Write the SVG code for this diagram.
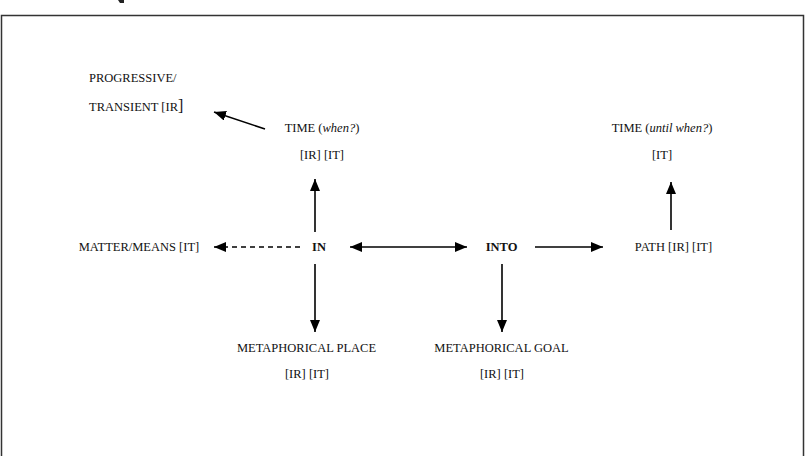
<svg xmlns="http://www.w3.org/2000/svg" width="812" height="456" viewBox="0 0 812 456">
  <defs>
    <marker id="head" viewBox="0 0 12 10" refX="12" refY="5" markerWidth="12" markerHeight="10" markerUnits="userSpaceOnUse" orient="auto-start-reverse">
      <path d="M0,0 L12,5 L0,10 Z" fill="#000"/>
    </marker>
    <style>
      text { font-family: "Liberation Serif", "Times New Roman", serif; font-size: 12.5px; fill: #111; text-anchor: middle; }
      .l { text-anchor: start; }
      .b { font-weight: bold; }
      .i { font-style: italic; }
      .frame { fill: none; stroke: #333; stroke-width: 1.5; }
      .edge { fill: none; stroke: #000; stroke-width: 1.6; }
      .dash { stroke-dasharray: 5 4; }
    </style>
  </defs>

  <rect width="812" height="456" fill="#fff"/>
  <!-- outer frame, open at the bottom -->
  <path class="frame" d="M1.5,470 V15.5 H803.5 V470"/>
  <path d="M118,0 h6 v3 h-4 z" fill="#222"/>

  <g id="connectors">
    <line class="edge" x1="265" y1="129" x2="214" y2="112" marker-end="url(#head)"/>
    <line class="edge" x1="315" y1="232" x2="315" y2="179" marker-end="url(#head)"/>
    <line class="edge dash" x1="300" y1="247" x2="214" y2="247" marker-end="url(#head)"/>
    <line class="edge" x1="350" y1="247" x2="467" y2="247" marker-start="url(#head)" marker-end="url(#head)"/>
    <line class="edge" x1="535" y1="247" x2="603" y2="247" marker-end="url(#head)"/>
    <line class="edge" x1="671" y1="230" x2="671" y2="182" marker-end="url(#head)"/>
    <line class="edge" x1="315" y1="264" x2="315" y2="332" marker-end="url(#head)"/>
    <line class="edge" x1="502" y1="264" x2="502" y2="332" marker-end="url(#head)"/>
  </g>

  <g id="progressive">
    <text class="l" x="89" y="82">PROGRESSIVE/</text>
    <text class="l" x="89" y="111">TRANSIENT [IR<tspan font-size="16">]</tspan></text>
  </g>
  <g id="time-when">
    <text x="322" y="132">TIME (<tspan class="i">when?</tspan>)</text>
    <text x="322" y="159">[IR] [IT]</text>
  </g>
  <g id="time-until">
    <text x="662" y="132">TIME (<tspan class="i">until when?</tspan>)</text>
    <text x="662" y="159">[IT]</text>
  </g>
  <g id="matter">
    <text x="139" y="251">MATTER/MEANS [IT]</text>
  </g>
  <g id="in">
    <text class="b" x="319" y="251">IN</text>
  </g>
  <g id="into">
    <text class="b" x="501.5" y="251">INTO</text>
  </g>
  <g id="path">
    <text x="673.5" y="251">PATH [IR] [IT]</text>
  </g>
  <g id="place">
    <text x="306.5" y="352">METAPHORICAL PLACE</text>
    <text x="307" y="378">[IR] [IT]</text>
  </g>
  <g id="goal">
    <text x="501.5" y="352">METAPHORICAL GOAL</text>
    <text x="502" y="378">[IR] [IT]</text>
  </g>
</svg>
